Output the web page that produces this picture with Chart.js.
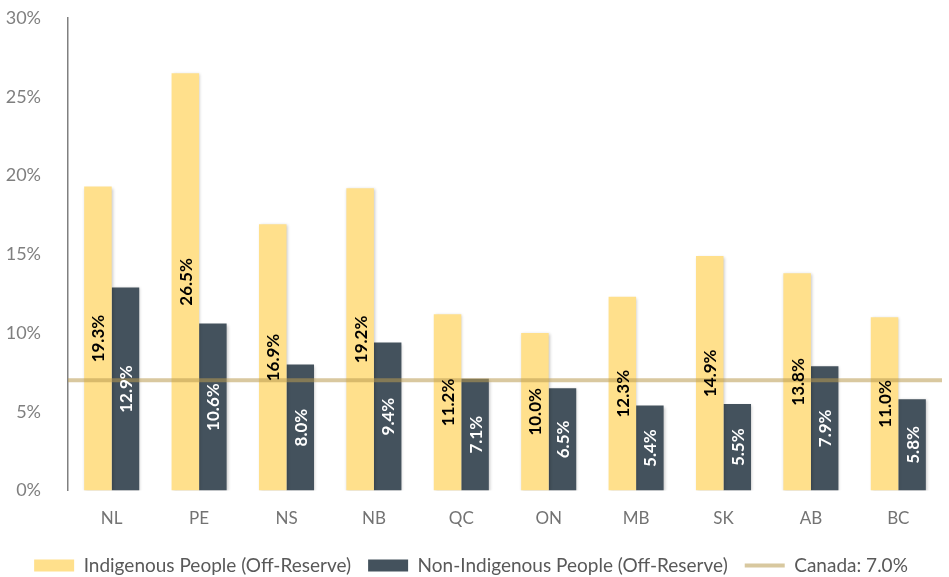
<!DOCTYPE html>
<html>
<head>
<meta charset="utf-8">
<script src="https://cdn.jsdelivr.net/npm/chart.js@4/dist/chart.umd.min.js"></script>
<style>
  html, body { margin: 0; padding: 0; background: #fff; }
  #wrap { width: 949px; height: 577px; }
</style>
</head>
<body>
<div id="wrap"><canvas id="grafico"></canvas></div>
<script>
const provincias = ['NL', 'PE', 'NS', 'NB', 'QC', 'ON', 'MB', 'SK', 'AB', 'BC'];
const indigenas = [19.3, 26.5, 16.9, 19.2, 11.2, 10.0, 12.3, 14.9, 13.8, 11.0];
const noIndigenas = [12.9, 10.6, 8.0, 9.4, 7.1, 6.5, 5.4, 5.5, 7.9, 5.8];
const tasaCanada = 7.0;

const colorAmarillo = '#FFE08C';
const colorOscuro = '#44525D';
const colorLinea = 'rgba(185, 155, 80, 0.55)';

// linea de Canada a lo ancho del area y etiquetas giradas dentro de las barras
const extras = {
  id: 'extras',
  beforeDatasetDraw(chart) {
    // sombra suave bajo las barras
    const ctx = chart.ctx;
    ctx.save();
    ctx.shadowColor = 'rgba(0, 0, 0, 0.22)';
    ctx.shadowBlur = 3;
    ctx.shadowOffsetX = 1;
    ctx.shadowOffsetY = 1;
  },
  afterDatasetDraw(chart) {
    chart.ctx.restore();
  },
  afterDatasetsDraw(chart) {
    const ctx = chart.ctx;
    const area = chart.chartArea;
    const y = chart.scales.y.getPixelForValue(tasaCanada);
    ctx.save();
    ctx.strokeStyle = colorLinea;
    ctx.lineWidth = 4;
    ctx.beginPath();
    ctx.moveTo(area.left, y);
    ctx.lineTo(area.right, y);
    ctx.stroke();

    ctx.font = 'bold 17px Lato';
    ctx.textAlign = 'center';
    ctx.textBaseline = 'middle';
    chart.data.datasets.forEach((ds, i) => {
      chart.getDatasetMeta(i).data.forEach((bar, j) => {
        const cy = (bar.y + bar.base) / 2;
        ctx.save();
        ctx.translate(bar.x, cy);
        ctx.rotate(-Math.PI / 2);
        ctx.fillStyle = i === 0 ? '#000' : '#fff';
        ctx.fillText(ds.data[j].toFixed(1) + '%', 0, 1);
        ctx.restore();
      });
    });
    ctx.restore();
  }
};

new Chart(document.getElementById('grafico'), {
  type: 'bar',
  data: {
    labels: provincias,
    datasets: [
      { label: 'Indigenous People (Off-Reserve)', data: indigenas, backgroundColor: colorAmarillo },
      { label: 'Non-Indigenous People (Off-Reserve)', data: noIndigenas, backgroundColor: colorOscuro }
    ]
  },
  options: {
    responsive: true,
    maintainAspectRatio: false,
    animation: false,
    layout: { padding: { top: 18, right: 7, left: 0, bottom: -8 } },
    datasets: { bar: { categoryPercentage: 0.63, barPercentage: 1 } },
    scales: {
      x: {
        grid: { display: false },
        border: { display: false },
        ticks: { color: '#737373', font: { family: 'Lato', size: 17 }, padding: 10 }
      },
      y: {
        min: 0,
        max: 30,
        afterFit(scale) {
          scale.width = 68;
          scale.paddingTop = 0;
          scale.paddingBottom = 0;
        },
        grid: { display: false },
        border: { display: true, color: '#808080', width: 1.5 },
        ticks: {
          stepSize: 5,
          color: '#7F7F7F',
          padding: 19,
          font: { family: 'Lato', size: 18 },
          callback: v => v + '%'
        }
      }
    },
    plugins: {
      tooltip: { enabled: false },
      legend: {
        position: 'bottom',
        labels: {
          color: '#595959',
          font: { family: 'Lato', size: 19 },
          usePointStyle: true,
          pointStyleWidth: 40,
          boxHeight: 12,
          padding: 17,
          generateLabels(chart) {
            const items = chart.data.datasets.map((ds, i) => ({
              text: ds.label,
              fillStyle: ds.backgroundColor,
              strokeStyle: ds.backgroundColor,
              lineWidth: 0,
              pointStyle: 'rect',
              fontColor: '#595959',
              datasetIndex: i
            }));
            items.push({
              text: 'Canada: ' + tasaCanada.toFixed(1) + '%',
              fillStyle: colorLinea,
              strokeStyle: '#D8C89F',
              lineWidth: 4,
              pointStyle: 'line',
              fontColor: '#595959'
            });
            return items;
          }
        }
      }
    }
  },
  plugins: [extras]
});
</script>
</body>
</html>
